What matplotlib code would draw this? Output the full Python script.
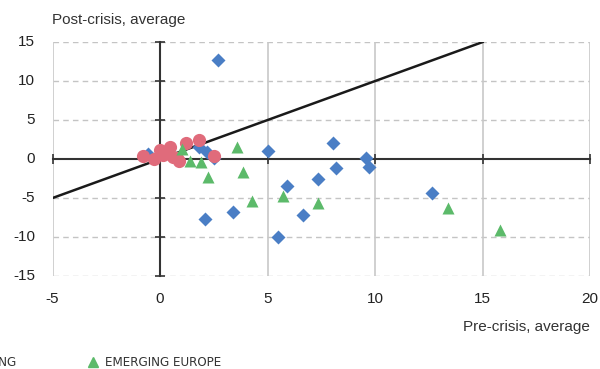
import matplotlib
matplotlib.use("Agg")
import matplotlib.pyplot as plt
import matplotlib.transforms as mtransforms
from matplotlib import font_manager
from matplotlib.lines import Line2D

# Pre- vs post-crisis averages by country group
adv_x = [-0.8, -0.3, 0.0, 0.15, 0.45, 0.6, 0.8, 0.9, 1.2, 1.8, 2.5]
adv_y = [0.4, 0.0, 1.1, 0.5, 1.6, 0.2, 0.1, -0.3, 2.1, 2.5, 0.4]

em_x = [2.7, 5.0, 8.05, 8.2, 9.6, 9.7, 5.9, 7.35, 6.65, 5.5, 3.4, 2.1, 12.65,
        -0.55, 1.8, 2.2, 2.5]
em_y = [12.7, 1.0, 2.0, -1.1, 0.1, -1.0, -3.4, -2.5, -7.2, -10.0, -6.8, -7.7, -4.4,
        0.7, 1.5, 0.9, 0.1]

eu_x = [3.6, 3.85, 4.3, 2.25, 5.7, 7.35, 13.4, 15.8, 1.0, 1.4, 1.9]
eu_y = [1.5, -1.6, -5.4, -2.3, -4.7, -5.6, -6.3, -9.1, 1.3, -0.3, -0.4]

group_labels = ["ADVANCED", "OTHER EMERGING", "EMERGING EUROPE"]
x_ticks = [-5, 0, 5, 10, 15, 20]
y_ticks = [-15, -10, -5, 0, 5, 10, 15]

BLUE = "#4a7ec5"
GREEN = "#5cba6a"
RED = "#e06b7b"

fonts = font_manager.fontManager.ttflist
names = {f.name for f in fonts}
main_font = "Liberation Sans" if "Liberation Sans" in names else "DejaVu Sans"
plt.rcParams["font.family"] = [main_font, "DejaVu Sans"]

# legend uses a narrow face when one is around
if "Liberation Sans Narrow" in names:
    leg_prop = {"family": "Liberation Sans Narrow", "size": 11}
elif any(f.name == "DejaVu Sans" and f.stretch == "condensed" for f in fonts):
    leg_prop = {"family": "DejaVu Sans", "stretch": "condensed", "size": 9.5}
else:
    leg_prop = {"family": main_font, "size": 9.5}

fig = plt.figure(figsize=(6, 3.69), dpi=100)
ax = fig.add_axes([0.0875, 0.252, 0.896, 0.634])
ax.set_xlim(-5, 20)
ax.set_ylim(-15, 15)

# grid: dashed horizontals, solid verticals
for y in y_ticks:
    if y != 0:
        ax.axhline(y, color="#c4c4c4", lw=1.0, ls=(0, (4, 3)), zorder=0)
for x in x_ticks:
    if x != 0:
        ax.axvline(x, color="#c8c8c8", lw=1.2, zorder=0)

# axes through the origin
for s in ["top", "right"]:
    ax.spines[s].set_visible(False)
ax.spines["left"].set_position(("data", 0))
ax.spines["bottom"].set_position(("data", 0))
for s in ["left", "bottom"]:
    ax.spines[s].set_color("#333333")
    ax.spines[s].set_linewidth(1.5)
    ax.spines[s].set_zorder(1)
ax.set_xticks(x_ticks)
ax.set_yticks(y_ticks)
ax.tick_params(direction="inout", length=7, width=1.2, color="#333333",
               labelleft=False, labelbottom=False)

# tick labels along the frame edges
ty = mtransforms.blended_transform_factory(ax.transAxes, ax.transData)
tx = mtransforms.blended_transform_factory(ax.transData, ax.transAxes)
for y in y_ticks:
    ax.text(-0.032, y, f"{y}", transform=ty, ha="right", va="center",
            fontsize=11, color="#222222")
for x in x_ticks:
    ax.text(x, -0.07, f"{x}", transform=tx, ha="center", va="top",
            fontsize=11, color="#222222")

ax.text(0.0, 1.065, "Post-crisis, average", transform=ax.transAxes,
        ha="left", va="bottom", fontsize=11, color="#333333")
ax.text(1.0, -0.19, "Pre-crisis, average", transform=ax.transAxes,
        ha="right", va="top", fontsize=11, color="#333333")

# 45-degree reference line
ax.plot([-5, 15], [-5, 15], color="#1a1a1a", lw=1.8, zorder=2)

ax.plot(em_x, em_y, ls="none", marker="D", ms=6.8, color=BLUE, mec="none", zorder=3)
ax.plot(adv_x, adv_y, ls="none", marker="o", ms=9.5, color=RED, mec="none", zorder=4)
ax.plot(eu_x, eu_y, ls="none", marker="^", ms=9.2, color=GREEN, mec="none", zorder=5)

handles = [
    Line2D([], [], ls="none", marker="o", ms=7, color=RED),
    Line2D([], [], ls="none", marker="D", ms=5, color=BLUE),
    Line2D([], [], ls="none", marker="^", ms=7, color=GREEN),
]
leg_kw = dict(loc="center right", frameon=False, borderpad=0, borderaxespad=0,
              handlelength=0.8, handletextpad=0.5, columnspacing=5.4,
              prop=leg_prop, labelcolor="#333333")
# legend row runs past the left edge of the figure
fig.legend(handles[:2], group_labels[:2], ncol=2,
           bbox_to_anchor=(16 / 600, 1 - 363 / 369), **leg_kw)
fig.legend(handles[2:], group_labels[2:], ncol=1,
           bbox_to_anchor=(221 / 600, 1 - 363 / 369), **leg_kw)

fig.savefig("out.png", dpi=100)
plt.close(fig)
